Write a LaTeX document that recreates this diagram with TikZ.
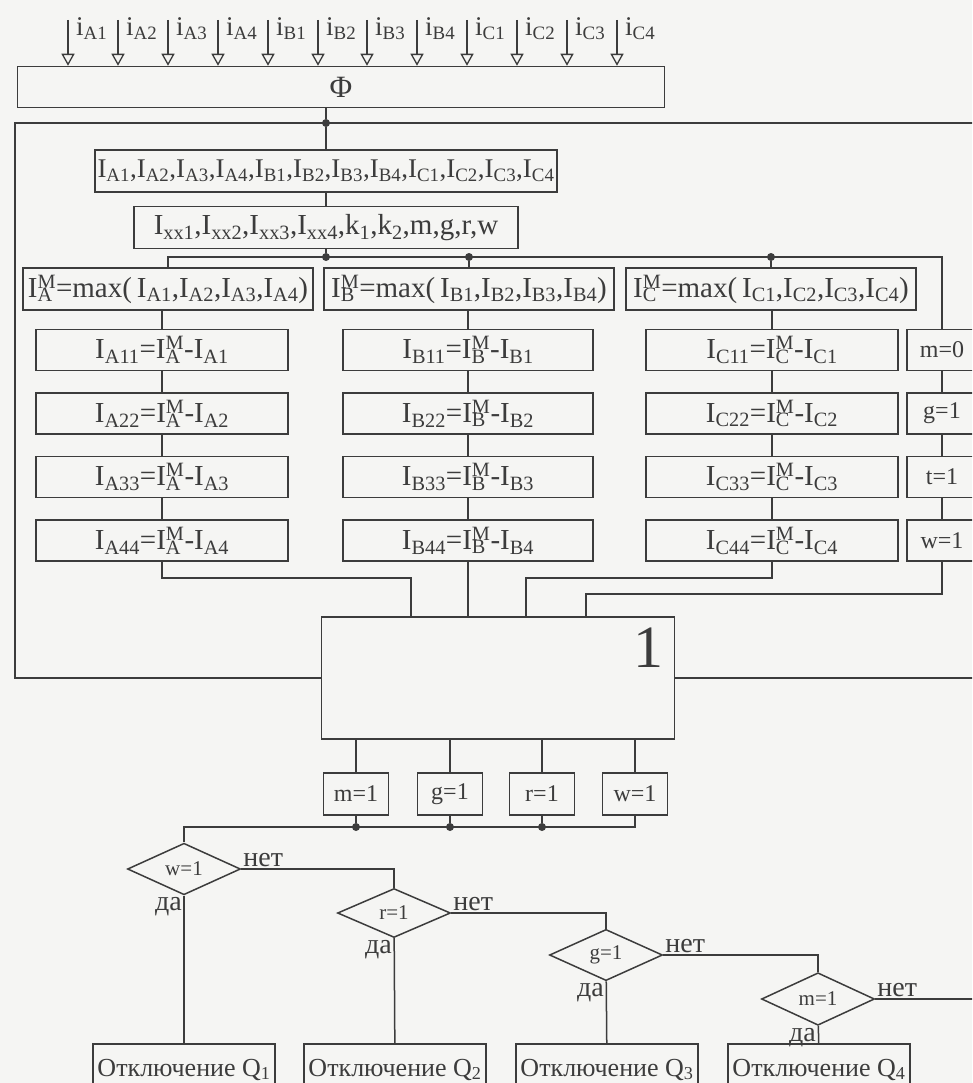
\documentclass[tikz,border=0pt]{standalone}
\usepackage{fontspec}
\setmainfont{Liberation Serif}
\usetikzlibrary{arrows.meta,positioning,calc,shapes.geometric}
\definecolor{inkgray}{HTML}{3C3C3C}
\definecolor{papergray}{HTML}{F5F5F3}
\newcommand{\Isub}[1]{I\textsubscript{#1}}
\newcommand{\Imax}[1]{I\rlap{\textsubscript{#1}}\textsuperscript{M}}
\tikzset{
  block/.style={
    rectangle,
    draw=inkgray,
    line width=1.5pt,
    text=inkgray,
    inner sep=2pt,
    minimum height=41pt,
    font=\fontsize{29}{31}\selectfont
  },
  colbox/.style={block, minimum width=252pt},
  maxbox/.style={block, minimum width=290pt, minimum height=42pt},
  sidebox/.style={block, minimum width=70pt, font=\fontsize{24}{26}\selectfont},
  flagbox/.style={block, minimum width=65pt, minimum height=42pt, font=\fontsize{24}{26}\selectfont},
  cond/.style={
    diamond,
    draw=inkgray,
    line width=1.5pt,
    text=inkgray,
    inner sep=0pt,
    minimum width=113pt,
    minimum height=49pt,
    font=\fontsize{21}{23}\selectfont
  },
  outbox/.style={block, minimum width=182pt, minimum height=52pt, font=\fontsize{26}{28}\selectfont},
  inlab/.style={text=inkgray, inner sep=0pt, anchor=base west, font=\fontsize{27}{29}\selectfont},
  ans/.style={text=inkgray, inner sep=2pt, font=\fontsize{28}{30}\selectfont},
  line/.style={draw=inkgray, line width=1.5pt},
  inarrow/.style={line, -{Triangle[open, length=12pt, width=13pt, line width=1.3pt]}},
  joint/.style={circle, fill=inkgray, inner sep=0pt, minimum size=8pt}
}

\begin{document}
\begin{tikzpicture}[x=1pt, y=-1pt, node distance=21pt]
  \clip (0,0) rectangle (972,1083);
  \fill[papergray] (0,0) rectangle (972,1083);

  % inputs and the filter block
  \node[block, minimum width=647pt, font=\fontsize{31}{33}\selectfont] (phi) at (341,87) {Φ};

  \coordinate (ta1) at (68,20);
  \coordinate (ta2) at (118,20);
  \coordinate (ta3) at (168,20);
  \coordinate (ta4) at (218,20);
  \coordinate (tb1) at (268,20);
  \coordinate (tb2) at (318,20);
  \coordinate (tb3) at (367,20);
  \coordinate (tb4) at (417,20);
  \coordinate (tc1) at (467,20);
  \coordinate (tc2) at (517,20);
  \coordinate (tc3) at (567,20);
  \coordinate (tc4) at (617,20);

  \node[inlab] (la1) at (76,36) {i\textsubscript{A1}};
  \node[inlab] (la2) at (126,36) {i\textsubscript{A2}};
  \node[inlab] (la3) at (176,36) {i\textsubscript{A3}};
  \node[inlab] (la4) at (226,36) {i\textsubscript{A4}};
  \node[inlab] (lb1) at (276,36) {i\textsubscript{B1}};
  \node[inlab] (lb2) at (326,36) {i\textsubscript{B2}};
  \node[inlab] (lb3) at (375,36) {i\textsubscript{B3}};
  \node[inlab] (lb4) at (425,36) {i\textsubscript{B4}};
  \node[inlab] (lc1) at (475,36) {i\textsubscript{C1}};
  \node[inlab] (lc2) at (525,36) {i\textsubscript{C2}};
  \node[inlab] (lc3) at (575,36) {i\textsubscript{C3}};
  \node[inlab] (lc4) at (625,36) {i\textsubscript{C4}};

  \draw[inarrow] (ta1) -- (ta1 |- phi.north);
  \draw[inarrow] (ta2) -- (ta2 |- phi.north);
  \draw[inarrow] (ta3) -- (ta3 |- phi.north);
  \draw[inarrow] (ta4) -- (ta4 |- phi.north);
  \draw[inarrow] (tb1) -- (tb1 |- phi.north);
  \draw[inarrow] (tb2) -- (tb2 |- phi.north);
  \draw[inarrow] (tb3) -- (tb3 |- phi.north);
  \draw[inarrow] (tb4) -- (tb4 |- phi.north);
  \draw[inarrow] (tc1) -- (tc1 |- phi.north);
  \draw[inarrow] (tc2) -- (tc2 |- phi.north);
  \draw[inarrow] (tc3) -- (tc3 |- phi.north);
  \draw[inarrow] (tc4) -- (tc4 |- phi.north);

  % currents and settings
  \coordinate (fbl) at (15,123);
  \coordinate (fbr) at (980,123);
  \node[joint] (top) at (326,123) {};
  \node[block, minimum width=462pt, minimum height=42pt, font=\fontsize{27}{29}\selectfont] (ilist) at (326,171)
    {\Isub{A1},\Isub{A2},\Isub{A3},\Isub{A4},\Isub{B1},\Isub{B2},\Isub{B3},\Isub{B4},\Isub{C1},\Isub{C2},\Isub{C3},\Isub{C4}};
  \node[block, minimum width=384pt, minimum height=42pt, below=13pt of ilist] (iparam)
    {\Isub{xx1},\Isub{xx2},\Isub{xx3},\Isub{xx4},k\textsubscript{1},k\textsubscript{2},m,g,r,w};
  \node[joint] (hub) at (326,257) {};

  % maxima per phase
  \node[maxbox] (maxa) at (168,289) {\Imax{A}=max(\,\Isub{A1},\Isub{A2},\Isub{A3},\Isub{A4})};
  \node[maxbox] (maxb) at (469,289) {\Imax{B}=max(\,\Isub{B1},\Isub{B2},\Isub{B3},\Isub{B4})};
  \node[maxbox] (maxc) at (771,289) {\Imax{C}=max(\,\Isub{C1},\Isub{C2},\Isub{C3},\Isub{C4})};
  \node[joint] (jb) at (hub -| maxb.north) {};
  \node[joint] (jc) at (hub -| maxc.north) {};

  % differences
  \node[colbox] (a11) at (162,350) {\Isub{A11}=\Imax{A}-\Isub{A1}};
  \node[colbox, below=of a11] (a22) {\Isub{A22}=\Imax{A}-\Isub{A2}};
  \node[colbox, below=of a22] (a33) {\Isub{A33}=\Imax{A}-\Isub{A3}};
  \node[colbox, below=of a33] (a44) {\Isub{A44}=\Imax{A}-\Isub{A4}};
  \node[colbox, minimum width=250pt] (b11) at (468,350) {\Isub{B11}=\Imax{B}-\Isub{B1}};
  \node[colbox, minimum width=250pt, below=of b11] (b22) {\Isub{B22}=\Imax{B}-\Isub{B2}};
  \node[colbox, minimum width=250pt, below=of b22] (b33) {\Isub{B33}=\Imax{B}-\Isub{B3}};
  \node[colbox, minimum width=250pt, below=of b33] (b44) {\Isub{B44}=\Imax{B}-\Isub{B4}};
  \node[colbox] (c11) at (772,350) {\Isub{C11}=\Imax{C}-\Isub{C1}};
  \node[colbox, below=of c11] (c22) {\Isub{C22}=\Imax{C}-\Isub{C2}};
  \node[colbox, below=of c22] (c33) {\Isub{C33}=\Imax{C}-\Isub{C3}};
  \node[colbox, below=of c33] (c44) {\Isub{C44}=\Imax{C}-\Isub{C4}};
  \node[sidebox] (s1) at (942,350) {m=0};
  \node[sidebox, below=of s1] (s2) {g=1};
  \node[sidebox, below=of s2] (s3) {t=1};
  \node[sidebox, below=of s3] (s4) {w=1};

  % logic block
  \node[block, minimum width=353pt, minimum height=122pt] (one) at (498,678) {};
  \node[text=inkgray, inner sep=0pt, font=\fontsize{60}{62}\selectfont] (onetxt) at (648,648) {1};
  \coordinate (ja) at (411,578);
  \coordinate (jcc) at (526,578);
  \coordinate (js) at (586,594);

  % flags
  \node[flagbox] (fm) at (356,794) {m=1};
  \node[flagbox] (fg) at (450,794) {g=1};
  \node[flagbox] (fr) at (542,794) {r=1};
  \node[flagbox] (fw) at (635,794) {w=1};
  \coordinate (busl) at (184,827);
  \node[joint] (jm) at (fm.south |- busl) {};
  \node[joint] (jg) at (fg.south |- busl) {};
  \node[joint] (jr) at (fr.south |- busl) {};

  % decisions
  \node[cond] (cw) at (184,869) {w=1};
  \node[cond] (cr) at (394,913) {r=1};
  \node[cond] (cg) at (606,955) {g=1};
  \node[cond] (cm) at (818,999) {m=1};
  \coordinate (mout) at (980,999);
  \node[ans, anchor=south west] (nw) at (cw.east) {нет};
  \node[ans, anchor=south west] (nr) at (cr.east) {нет};
  \node[ans, anchor=south west] (ng) at (cg.east) {нет};
  \node[ans, anchor=south west] (nm) at (cm.east) {нет};
  \node[ans, anchor=north east] (yw) at (cw.south) {да};
  \node[ans, anchor=north east] (yr) at (cr.south) {да};
  \node[ans, anchor=north east] (yg) at (cg.south) {да};
  \node[ans, anchor=north east] (ym) at (cm.south) {да};

  \node[outbox, anchor=north] (q1) at (184,1043) {Отключение Q\textsubscript{1}};
  \node[outbox, anchor=north] (q2) at (395,1043) {Отключение Q\textsubscript{2}};
  \node[outbox, anchor=north] (q3) at (607,1043) {Отключение Q\textsubscript{3}};
  \node[outbox, anchor=north] (q4) at (819,1043) {Отключение Q\textsubscript{4}};

  \draw[line] (top |- phi.south) -- (top);
  \draw[line] (fbr) -- (fbl) |- (one.west);
  \draw[line] (one.east) -- (one.east -| fbr);
  \draw[line] (top) -- (ilist);
  \draw[line] (ilist) -- (iparam);
  \draw[line] (iparam) -- (hub);
  \draw[line] (maxa.north) |- (hub -| s1.north) -- (s1.north);
  \draw[line] (jb) -- (maxb);
  \draw[line] (jc) -- (maxc);

  \draw[line] (a11.north |- maxa.south) -- (a11);
  \draw[line] (a11) -- (a22);
  \draw[line] (a22) -- (a33);
  \draw[line] (a33) -- (a44);
  \draw[line] (b11.north |- maxb.south) -- (b11);
  \draw[line] (b11) -- (b22);
  \draw[line] (b22) -- (b33);
  \draw[line] (b33) -- (b44);
  \draw[line] (c11.north |- maxc.south) -- (c11);
  \draw[line] (c11) -- (c22);
  \draw[line] (c22) -- (c33);
  \draw[line] (c33) -- (c44);
  \draw[line] (s1) -- (s2);
  \draw[line] (s2) -- (s3);
  \draw[line] (s3) -- (s4);

  \draw[line] (a44.south) |- (ja) -- (ja |- one.north);
  \draw[line] (b44.south) -- (b44.south |- one.north);
  \draw[line] (c44.south) |- (jcc) -- (jcc |- one.north);
  \draw[line] (s4.south) |- (js) -- (js |- one.north);

  \draw[line] (fm.north |- one.south) -- (fm);
  \draw[line] (fg.north |- one.south) -- (fg);
  \draw[line] (fr.north |- one.south) -- (fr);
  \draw[line] (fw.north |- one.south) -- (fw);
  \draw[line] (fm) -- (jm);
  \draw[line] (fg) -- (jg);
  \draw[line] (fr) -- (jr);
  \draw[line] (fw.south) |- (busl) -- (cw.north);

  \draw[line] (cw.east) -| (cr.north);
  \draw[line] (cr.east) -| (cg.north);
  \draw[line] (cg.east) -| (cm.north);
  \draw[line] (cm.east) -- (mout);
  \draw[line] (cw) -- (q1);
  \draw[line] (cr) -- (q2);
  \draw[line] (cg) -- (q3);
  \draw[line] (cm) -- (q4);
\end{tikzpicture}
\end{document}
